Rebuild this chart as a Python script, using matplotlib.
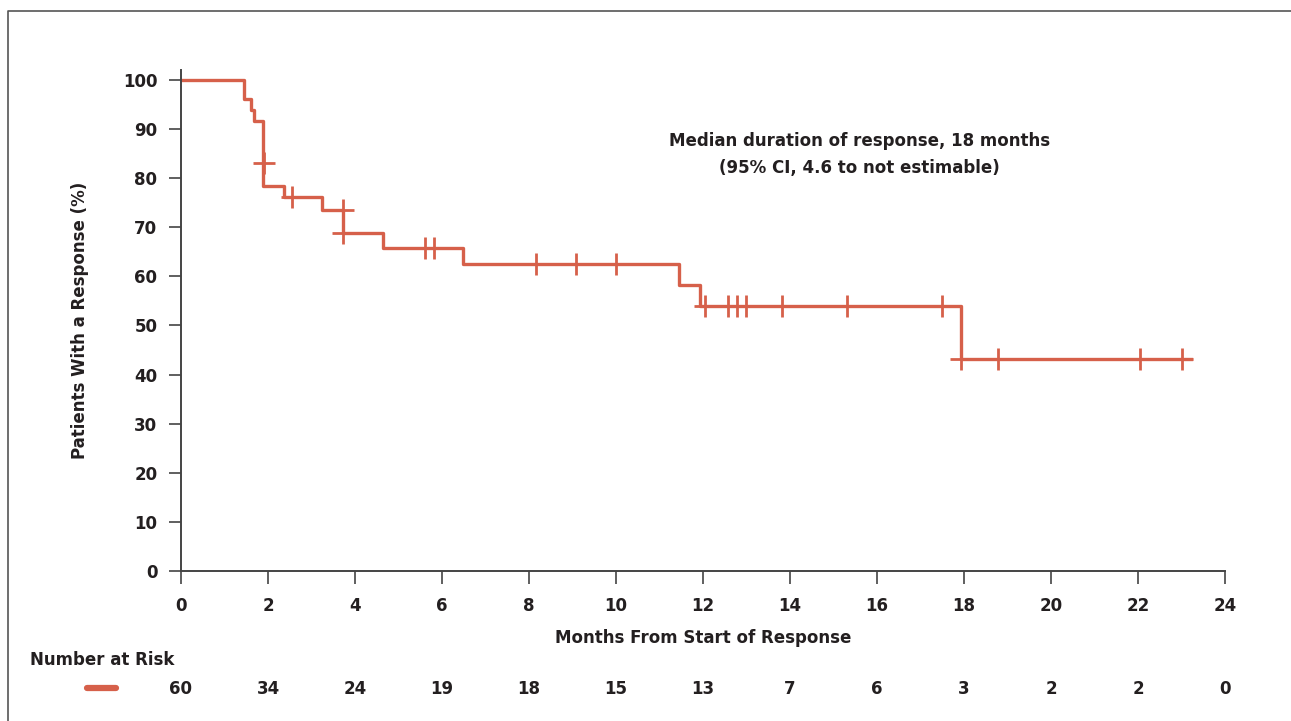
import matplotlib
matplotlib.use("Agg")
import matplotlib.pyplot as plt
from matplotlib.lines import Line2D

# Kaplan-Meier steps (months, % responding)
step_months = [0, 1.45, 1.62, 1.68, 1.88, 2.37, 3.23, 3.72, 4.64, 6.48,
               11.45, 11.92, 17.92, 23.22]
step_pct = [100, 96.1, 93.9, 91.7, 78.4, 76.1, 73.5, 68.8, 65.7, 62.5,
            58.2, 54.0, 43.1, 43.1]

# censored observations
cens_months = [1.90, 2.56, 3.72, 3.72, 5.61, 5.82, 8.16, 9.07, 10.0,
               12.05, 12.58, 12.77, 12.98, 13.82, 15.30, 17.49,
               17.92, 18.78, 22.05, 23.02]
cens_pct = [83.0, 76.1, 73.5, 68.8, 65.7, 65.7, 62.5, 62.5, 62.5,
            54.0, 54.0, 54.0, 54.0, 54.0, 54.0, 54.0,
            43.1, 43.1, 43.1, 43.1]

risk_months = [0, 2, 4, 6, 8, 10, 12, 14, 16, 18, 20, 22, 24]
at_risk = [60, 34, 24, 19, 18, 15, 13, 7, 6, 3, 2, 2, 0]

x_ticks = list(range(0, 25, 2))
y_ticks = list(range(0, 101, 10))

RED = "#d6604a"
INK = "#231f20"
plt.rcParams["font.family"] = ["DejaVu Sans"]
plt.rcParams["font.weight"] = "bold"
FS = 12

fig = plt.figure(figsize=(12.91, 7.21), dpi=100)
ax = fig.add_axes([0.1402, 0.2080, 0.8087, 0.6949])

ax.step(step_months, step_pct, where="post", color=RED, lw=2.4)
ax.plot(cens_months, cens_pct, ls="none", marker="+", ms=16, mew=2.0,
        color=RED)

ax.set_xlim(0, 24)
ax.set_ylim(0, 102)
ax.set_xticks(x_ticks)
ax.set_yticks(y_ticks)
for s in ["top", "right"]:
    ax.spines[s].set_visible(False)
for s in ["left", "bottom"]:
    ax.spines[s].set_color("#444444")
    ax.spines[s].set_linewidth(1.4)
ax.tick_params(axis="both", length=9, width=1.2, color="#444444",
               labelsize=FS, labelcolor=INK)
ax.tick_params(axis="x", pad=10)
ax.tick_params(axis="y", pad=8)
for lab in ax.get_xticklabels() + ax.get_yticklabels():
    lab.set_fontweight("bold")

ax.text(0.5, -0.1337, "Months From Start of Response", transform=ax.transAxes,
        ha="center", va="center", fontsize=FS, fontweight="bold", color=INK)
ax.text(-0.0967, 0.5, "Patients With a Response (%)", transform=ax.transAxes,
        ha="center", va="center", rotation=90, fontsize=FS,
        fontweight="bold", color=INK)

ax.text(15.6, 87.6, "Median duration of response, 18 months", ha="center",
        va="center", fontsize=FS, fontweight="bold", color=INK)
ax.text(15.6, 82.1, "(95% CI, 4.6 to not estimable)", ha="center",
        va="center", fontsize=FS, fontweight="bold", color=INK)

# number at risk table
tr = ax.get_xaxis_transform()
for m, n in zip(risk_months, at_risk):
    ax.text(m, -0.2355, str(n), transform=tr, ha="center", va="center",
            fontsize=FS, fontweight="bold", color=INK, clip_on=False)
fig.text(30 / 1291, 1 - 660 / 721, "Number at Risk", ha="left", va="center",
         fontsize=FS, fontweight="bold", color=INK)
fig.add_artist(Line2D([87 / 1291, 116 / 1291], [1 - 688 / 721] * 2,
                      transform=fig.transFigure, color=RED, lw=4.5,
                      solid_capstyle="round"))

# outer frame (left and top only)
fig.add_artist(Line2D([8 / 1291, 8 / 1291, 1.0], [0.0, 1 - 11 / 721, 1 - 11 / 721],
                      transform=fig.transFigure, color="#555555", lw=1.2))

fig.savefig("out.png", dpi=100, facecolor="white")
